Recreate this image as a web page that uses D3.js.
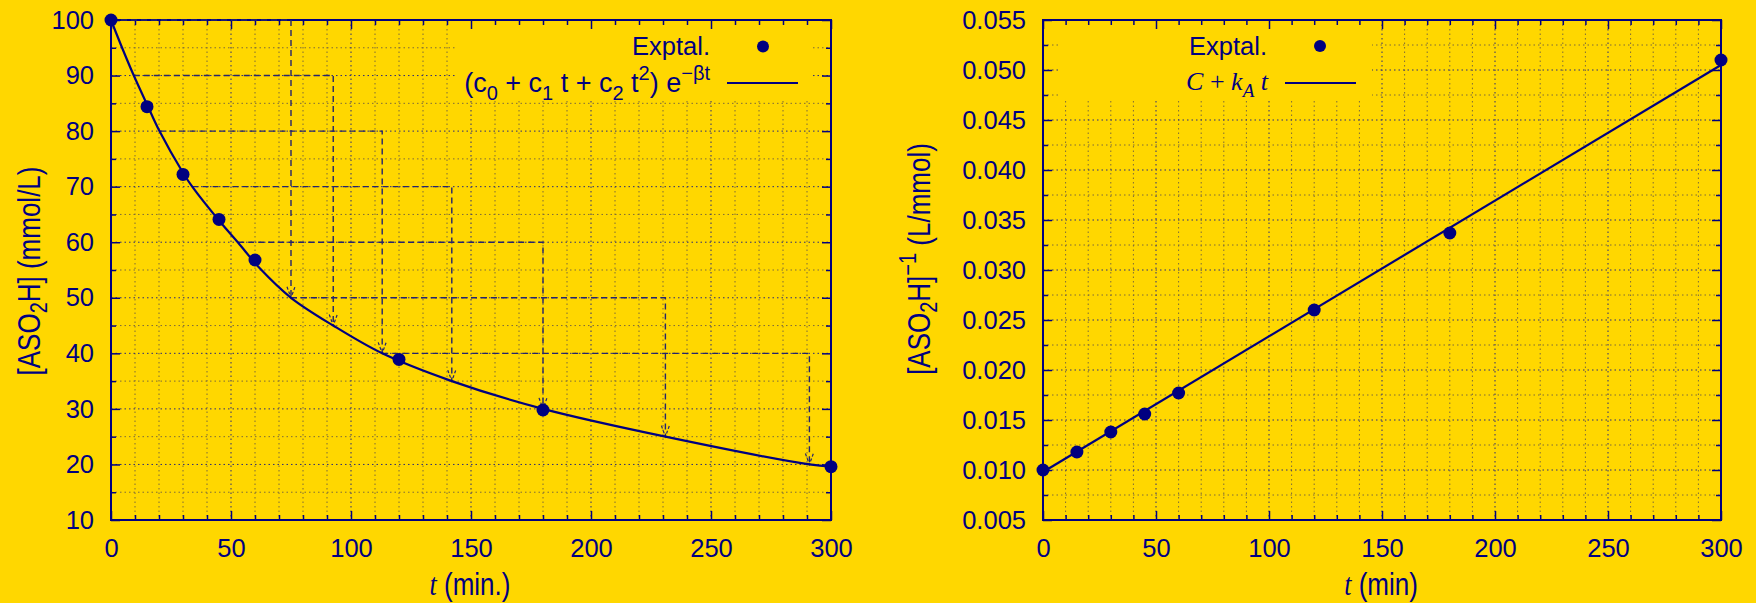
<!DOCTYPE html>
<html><head><meta charset="utf-8">
<script src="https://cdn.jsdelivr.net/npm/d3@7"></script>
<style>
html,body{margin:0;padding:0;background:#FFD700;}
svg{display:block;}
</style></head><body>
<svg id="c" width="1756" height="603"></svg>
<script>
// ---------------- data ----------------
const tData      = [0, 15, 30, 45, 60, 120, 180, 300];
const concData   = [100, 84.4, 72.2, 64.1, 56.8, 38.9, 29.8, 19.6];
const invData    = [0.0100, 0.0118, 0.0138, 0.0156, 0.0177, 0.0260, 0.0337, 0.0510];
// fitted curve (c0 + c1 t + c2 t^2) e^(-beta t)
const fitT       = [0, 5, 9.5, 15, 20.2, 30, 34, 45, 53, 62, 75, 92.6, 113, 142, 180, 231, 291, 300];
const fitConc    = [100, 94.6, 90, 84.8, 80, 72.5, 69.9, 63.9, 59.9, 55.3, 50, 45, 40, 35, 30, 25, 20, 19.6];
// straight line C + kA t
const lineT      = [0, 300];
const lineInv    = [0.0098, 0.0505];
// half-life construction: level, start time on curve, time where curve reaches level/2
const hlLevel    = [100, 90, 80, 70, 60, 50, 40];
const hlStartT   = [0, 9.5, 20.2, 34, 53, 75, 113];
const hlEndT     = [75, 92.6, 113, 142, 180, 231, 291];
// ticks
const xMajor     = [0, 50, 100, 150, 200, 250, 300];
const yMajorL    = [10, 20, 30, 40, 50, 60, 70, 80, 90, 100];
const yMajorR    = [0.005, 0.010, 0.015, 0.020, 0.025, 0.030, 0.035, 0.040, 0.045, 0.050, 0.055];

// ---------------- style ----------------
const BG = "#FFD700", NAVY = "#000080";
const SANS = "'Liberation Sans', Arial, Helvetica, sans-serif";
const SERIF = "'Liberation Serif', 'Times New Roman', serif";
const svg = d3.select("#c");
svg.append("rect").attr("width", 1756).attr("height", 603).attr("fill", BG);

function panel(o) {
  const g = svg.append("g");
  const x = d3.scaleLinear().domain([0, 300]).range([o.x0, o.x1]);
  const y = d3.scaleLinear().domain(o.yDomain).range([o.y1, o.y0]);
  const xMinor = d3.range(0, 301, 10).filter(v => v % 50 !== 0);
  const yMinor = o.yMinor;

  // grid
  const grid = g.append("g");
  grid.selectAll(".gxm").data(xMinor).join("line")
    .attr("x1", d => x(d)).attr("x2", d => x(d)).attr("y1", o.y0).attr("y2", o.y1)
    .attr("stroke", "#7d6b3a").attr("stroke-width", 1).attr("stroke-dasharray", "1.5,3");
  grid.selectAll(".gym").data(yMinor).join("line")
    .attr("y1", d => y(d)).attr("y2", d => y(d)).attr("x1", o.x0).attr("x2", o.x1)
    .attr("stroke", "#7d6b3a").attr("stroke-width", 1).attr("stroke-dasharray", "1.5,3");
  grid.selectAll(".gxM").data(xMajor).join("line")
    .attr("x1", d => x(d)).attr("x2", d => x(d)).attr("y1", o.y0).attr("y2", o.y1)
    .attr("stroke", "#2a2a78").attr("stroke-width", 1).attr("stroke-dasharray", "1.5,3");
  grid.selectAll(".gyM").data(o.yMajor).join("line")
    .attr("y1", d => y(d)).attr("y2", d => y(d)).attr("x1", o.x0).attr("x2", o.x1)
    .attr("stroke", "#2a2a78").attr("stroke-width", 1).attr("stroke-dasharray", "1.5,3");

  // legend mask (opaque key)
  g.append("rect").attr("x", o.key[0]).attr("y", o.key[1])
    .attr("width", o.key[2] - o.key[0]).attr("height", o.key[3] - o.key[1]).attr("fill", BG);

  // axes (ticks inward, mirrored)
  function styleAxis(sel) {
    sel.select(".domain").remove();
    sel.selectAll(".tick line").attr("stroke", NAVY).attr("stroke-width", 1.5);
    sel.selectAll(".tick text").attr("fill", NAVY).attr("font-family", SANS).attr("font-size", 25.5);
  }
  g.append("g").attr("transform", `translate(0,${o.y1})`)
    .call(d3.axisBottom(x).tickValues(xMajor).tickSize(-9).tickPadding(19).tickFormat(d3.format("d")))
    .call(styleAxis);
  g.append("g").attr("transform", `translate(0,${o.y1})`)
    .call(d3.axisBottom(x).tickValues(xMinor).tickSize(-5).tickFormat(""))
    .call(styleAxis);
  g.append("g").attr("transform", `translate(0,${o.y0})`)
    .call(d3.axisTop(x).tickValues(xMajor).tickSize(-9).tickFormat(""))
    .call(styleAxis);
  g.append("g").attr("transform", `translate(0,${o.y0})`)
    .call(d3.axisTop(x).tickValues(xMinor).tickSize(-5).tickFormat(""))
    .call(styleAxis);
  g.append("g").attr("transform", `translate(${o.x0},0)`)
    .call(d3.axisLeft(y).tickValues(o.yMajor).tickSize(-9).tickPadding(17).tickFormat(o.fmt))
    .call(styleAxis);
  g.append("g").attr("transform", `translate(${o.x0},0)`)
    .call(d3.axisLeft(y).tickValues(yMinor).tickSize(-5).tickFormat(""))
    .call(styleAxis);
  g.append("g").attr("transform", `translate(${o.x1},0)`)
    .call(d3.axisRight(y).tickValues(o.yMajor).tickSize(-9).tickFormat(""))
    .call(styleAxis);
  g.append("g").attr("transform", `translate(${o.x1},0)`)
    .call(d3.axisRight(y).tickValues(yMinor).tickSize(-5).tickFormat(""))
    .call(styleAxis);

  // border
  g.append("rect").attr("x", o.x0).attr("y", o.y0).attr("width", o.x1 - o.x0).attr("height", o.y1 - o.y0)
    .attr("fill", "none").attr("stroke", NAVY).attr("stroke-width", 2);

  // x label
  const xl = g.append("text").attr("text-anchor", "middle").attr("fill", NAVY)
    .attr("font-size", 26).attr("transform", `translate(${o.xLabelX},595) scale(1,1.2)`);
  xl.append("tspan").attr("font-family", SERIF).attr("font-style", "italic").text("t");
  xl.append("tspan").attr("font-family", SANS).text(o.xLabelRest);

  return {g, x, y};
}

// ---------------- left panel ----------------
const L = panel({
  x0: 111, x1: 831, y0: 20, y1: 520, yDomain: [10, 100], yMajor: yMajorL,
  yMinor: d3.range(15, 100, 10), fmt: d3.format("d"),
  key: [455, 21, 813, 100], xLabelX: 470, xLabelRest: " (min.)"
});

// half-life construction
const hl = L.g.append("g");
hlLevel.forEach((c, i) => {
  const xs = L.x(hlStartT[i]), xe = L.x(hlEndT[i]), yc = L.y(c), yh = L.y(c / 2);
  hl.append("path").attr("d", `M${xs},${yc}H${xe}V${yh}`)
    .attr("fill", "none").attr("stroke", "#24246e").attr("stroke-width", 1.4)
    .attr("stroke-dasharray", "6,4");
  hl.append("path").attr("d", `M${xe - 4},${yh - 11}L${xe},${yh}L${xe + 4},${yh - 11}`)
    .attr("fill", "none").attr("stroke", "#24246e").attr("stroke-width", 1.2)
    .attr("stroke-dasharray", "3,2");
});

L.g.append("path").datum(fitT.map((t, i) => [t, fitConc[i]]))
  .attr("d", d3.line().x(d => L.x(d[0])).y(d => L.y(d[1])).curve(d3.curveCatmullRom.alpha(0.5)))
  .attr("fill", "none").attr("stroke", NAVY).attr("stroke-width", 2.2);
L.g.selectAll(".pt").data(tData.map((t, i) => [t, concData[i]])).join("circle")
  .attr("cx", d => L.x(d[0])).attr("cy", d => L.y(d[1])).attr("r", 6.5).attr("fill", NAVY);

// left legend
L.g.append("text").attr("x", 710).attr("y", 55).attr("text-anchor", "end").attr("fill", NAVY)
  .attr("font-family", SANS).attr("font-size", 25.5).text("Exptal.");
L.g.append("circle").attr("cx", 763).attr("cy", 46.5).attr("r", 6).attr("fill", NAVY);
{
  const f = L.g.append("text").attr("x", 710).attr("y", 92).attr("text-anchor", "end").attr("fill", NAVY)
    .attr("font-family", SANS).attr("font-size", 27);
  const parts = [
    ["(c", 0, 27], ["0", 8, 20], [" + c", -8, 27], ["1", 8, 20], [" t + c", -8, 27], ["2", 8, 20],
    [" t", -8, 27], ["2", -12, 20], [") e", 12, 27], ["\u2212\u03b2t", -12, 20]
  ];
  parts.forEach(p => f.append("tspan").attr("dy", p[1]).attr("font-size", p[2]).text(p[0]));
}
L.g.append("line").attr("x1", 727).attr("x2", 798).attr("y1", 83).attr("y2", 83)
  .attr("stroke", NAVY).attr("stroke-width", 2.2);

// left y label
{
  const t = L.g.append("text").attr("text-anchor", "middle").attr("fill", NAVY)
    .attr("font-family", SANS).attr("font-size", 26)
    .attr("transform", "translate(40,271) rotate(-90) scale(1,1.2)");
  t.append("tspan").text("[ASO");
  t.append("tspan").attr("dy", 6).attr("font-size", 20).text("2");
  t.append("tspan").attr("dy", -6).text("H] (mmol/L)");
}

// ---------------- right panel ----------------
const R = panel({
  x0: 1043, x1: 1721, y0: 20, y1: 520, yDomain: [0.005, 0.055], yMajor: yMajorR,
  yMinor: d3.range(0, 20).map(i => 0.0075 + i * 0.005).filter(v => v < 0.055),
  fmt: d3.format(".3f"),
  key: [1060, 21, 1372, 100], xLabelX: 1381, xLabelRest: " (min)"
});

R.g.append("path").datum(lineT.map((t, i) => [t, lineInv[i]]))
  .attr("d", d3.line().x(d => R.x(d[0])).y(d => R.y(d[1])))
  .attr("fill", "none").attr("stroke", NAVY).attr("stroke-width", 2.2);
R.g.selectAll(".pt").data(tData.map((t, i) => [t, invData[i]])).join("circle")
  .attr("cx", d => R.x(d[0])).attr("cy", d => R.y(d[1])).attr("r", 6.5).attr("fill", NAVY);

// right legend
R.g.append("text").attr("x", 1267).attr("y", 55).attr("text-anchor", "end").attr("fill", NAVY)
  .attr("font-family", SANS).attr("font-size", 25.5).text("Exptal.");
R.g.append("circle").attr("cx", 1320).attr("cy", 46).attr("r", 6).attr("fill", NAVY);
{
  const f = R.g.append("text").attr("x", 1268).attr("y", 90).attr("text-anchor", "end").attr("fill", NAVY)
    .attr("font-family", SERIF).attr("font-size", 26);
  f.append("tspan").attr("font-style", "italic").text("C");
  f.append("tspan").text(" + ");
  f.append("tspan").attr("font-style", "italic").text("k");
  f.append("tspan").attr("font-style", "italic").attr("font-size", 19).attr("dy", 7).text("A");
  f.append("tspan").attr("font-style", "italic").attr("dy", -7).text(" t");
}
R.g.append("line").attr("x1", 1285).attr("x2", 1356).attr("y1", 83).attr("y2", 83)
  .attr("stroke", NAVY).attr("stroke-width", 2.2);

// right y label
{
  const t = R.g.append("text").attr("text-anchor", "middle").attr("fill", NAVY)
    .attr("font-family", SANS).attr("font-size", 26)
    .attr("transform", "translate(930,259) rotate(-90) scale(1,1.2)");
  t.append("tspan").text("[ASO");
  t.append("tspan").attr("dy", 6).attr("font-size", 20).text("2");
  t.append("tspan").attr("dy", -6).text("H]");
  t.append("tspan").attr("dy", -12).attr("font-size", 20).text("\u22121");
  t.append("tspan").attr("dy", 12).text("  (L/mmol)");
}
</script>
</body></html>
